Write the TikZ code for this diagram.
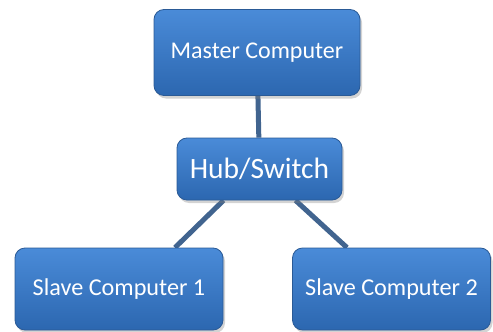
\documentclass[tikz,border=0pt]{standalone}
\usepackage{fontspec}
\setmainfont{Carlito}
\usetikzlibrary{shadows,backgrounds,calc}
\definecolor{boxtop}{HTML}{4A8BD8}
\definecolor{boxbot}{HTML}{2C67B0}
\definecolor{boxedge}{HTML}{2A5A96}
\definecolor{linkcol}{HTML}{41648F}
\tikzset{
  unit/.style={rounded corners=10pt, draw=boxedge, line width=0.8pt,
    top color=boxtop, bottom color=boxbot, text=white,
    drop shadow={opacity=0.35, shadow xshift=2pt, shadow yshift=-3pt},
    inner sep=0pt, align=center},
  link/.style={draw=linkcol, line width=5pt}
}
\begin{document}
\begin{tikzpicture}[x=1pt,y=-1pt]
\useasboundingbox (0,0) rectangle (493,332);
\node[unit, minimum width=206pt, minimum height=86pt, font=\fontsize{24}{28}\selectfont] (master) at (257,52.5) {Master Computer};
\node[unit, minimum width=165pt, minimum height=62pt, font=\fontsize{29.5}{34}\selectfont] (hub) at (259.5,169) {Hub/Switch};
\node[unit, minimum width=208pt, minimum height=82pt, font=\fontsize{24.2}{28}\selectfont] (s1) at (119,289) {Slave Computer 1};
\node[unit, minimum width=198pt, minimum height=82pt, font=\fontsize{24.2}{28}\selectfont] (s2) at (391.5,289) {Slave Computer 2};
\begin{scope}[on background layer]
\draw[link] (master) -- (hub);
\draw[link] ($(hub.south)+(-36,0)$) -- ($(s1.north)+(56,0)$);
\draw[link] ($(hub.south)+(36,0)$) -- ($(s2.north)+(-44.5,0)$);
\end{scope}
\end{tikzpicture}
\end{document}
